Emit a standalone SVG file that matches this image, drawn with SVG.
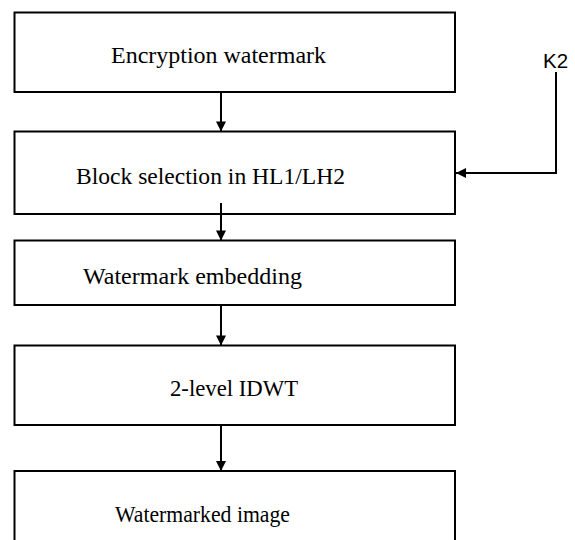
<svg xmlns="http://www.w3.org/2000/svg" width="575" height="540" viewBox="0 0 575 540">
  <style>
    .box { fill: #ffffff; stroke: #000000; stroke-width: 2; }
    .lbl { font-family: "Liberation Serif", "Times New Roman", serif; font-size: 23.5px; fill: #000000; }
    .key { font-family: "Liberation Sans", Arial, sans-serif; font-size: 21px; fill: #000000; }
    .conn { fill: none; stroke: #000000; stroke-width: 2; }
  </style>
  <defs>
    <marker id="arrow" markerUnits="userSpaceOnUse" markerWidth="12" markerHeight="12" viewBox="0 0 12 12" refX="11" refY="6" orient="auto">
      <path d="M1,1 L11,6 L1,11 Z" fill="#000000"/>
    </marker>
  </defs>
  <rect width="575" height="540" fill="#ffffff"/>

  <g id="node-encryption">
    <rect class="box" x="14.5" y="12.5" width="440.5" height="79.5"/>
    <text class="lbl" x="111" y="62.5" textLength="215" lengthAdjust="spacingAndGlyphs">Encryption watermark</text>
  </g>
  <g id="node-block-selection">
    <rect class="box" x="14.5" y="131.5" width="440.5" height="82.5"/>
    <text class="lbl" x="76" y="184" textLength="269" lengthAdjust="spacingAndGlyphs">Block selection in HL1/LH2</text>
  </g>
  <g id="node-embedding">
    <rect class="box" x="14.5" y="240.5" width="440.5" height="64.5"/>
    <text class="lbl" x="83" y="284" textLength="219" lengthAdjust="spacingAndGlyphs">Watermark embedding</text>
  </g>
  <g id="node-idwt">
    <rect class="box" x="14.5" y="345.5" width="440.5" height="79.5"/>
    <text class="lbl" x="170" y="395.5" textLength="128" lengthAdjust="spacingAndGlyphs">2-level IDWT</text>
  </g>
  <g id="node-watermarked">
    <rect class="box" x="14.5" y="471" width="440.5" height="90"/>
    <text class="lbl" x="115" y="522" textLength="175" lengthAdjust="spacingAndGlyphs">Watermarked image</text>
  </g>
  <g id="node-k2">
    <text class="key" x="543" y="67.5" textLength="25" lengthAdjust="spacingAndGlyphs">K2</text>
  </g>

  <g id="connectors">
    <line class="conn" x1="221" y1="92" x2="221" y2="131.5" marker-end="url(#arrow)"/>
    <line class="conn" x1="221" y1="203" x2="221" y2="240.5" marker-end="url(#arrow)"/>
    <line class="conn" x1="221" y1="305" x2="221" y2="345.5" marker-end="url(#arrow)"/>
    <line class="conn" x1="221" y1="425" x2="221" y2="471" marker-end="url(#arrow)"/>
    <polyline class="conn" points="556,72 556,173 456,173" marker-end="url(#arrow)"/>
  </g>
</svg>
